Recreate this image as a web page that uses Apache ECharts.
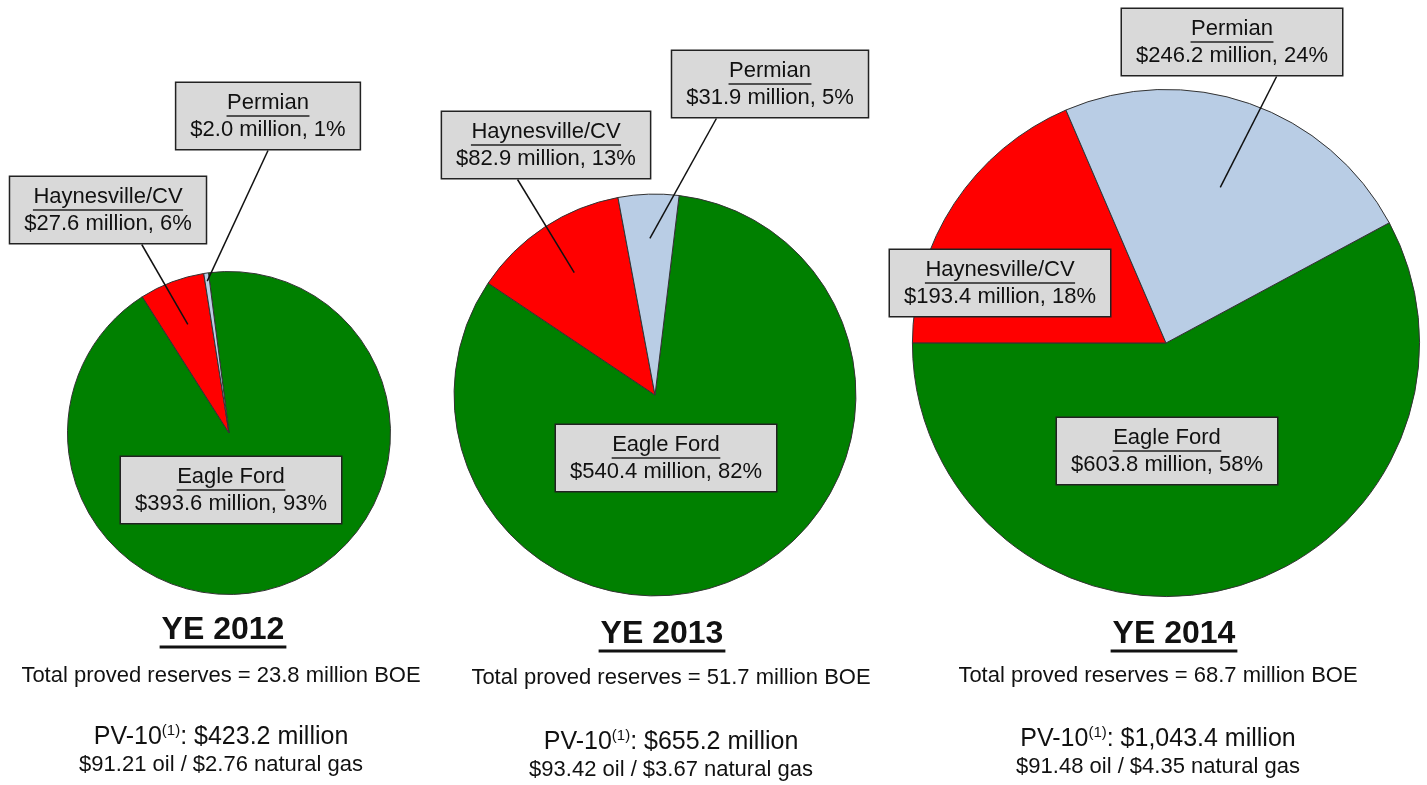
<!DOCTYPE html>
<html>
<head>
<meta charset="utf-8">
<script src="https://cdn.jsdelivr.net/npm/echarts@6/dist/echarts.min.js"></script>
<style>
  html, body { margin: 0; padding: 0; background: #fff; }
  #chart { width: 1427px; height: 785px; }
</style>
</head>
<body>
<div id="chart"></div>
<script>
// ---- data ----
var regions = ['Eagle Ford', 'Haynesville/CV', 'Permian'];
var years = ['YE 2012', 'YE 2013', 'YE 2014'];
var pv2012 = [393.6, 27.6, 2.0];
var pv2013 = [540.4, 82.9, 31.9];
var pv2014 = [603.8, 193.4, 246.2];
var pct2012 = [93, 6, 1];
var pct2013 = [82, 13, 5];
var pct2014 = [58, 18, 24];
var reserves = ['23.8', '51.7', '68.7'];
var prices = ['$91.21 oil / $2.76 natural gas', '$93.42 oil / $3.67 natural gas', '$91.48 oil / $4.35 natural gas'];

// ---- layout ----
var pieCenters = [[229, 433], [655, 395], [1166, 343]];
var startAngles = [97.3, 83.1, 28.3];
var radiusScale = 7.85; // px per sqrt($ million), pies sized by PV-10
var boxCenters = [
  [[231, 490], [108, 210], [268, 116]],
  [[666, 458], [546, 145], [770, 84]],
  [[1167, 451], [1000, 283], [1232, 42]]
];
// how deep into the slice the leader line reaches (0 = no leader)
var anchorDepth = [[0, 0.72, 0.95], [0, 0.73, 0.78], [0, 0, 0.65]];
// where the leader leaves the box bottom, as a share of the half width
var leaderStart = [[0, 0.34, 0], [0, -0.27, -0.54], [0, 0, 0.4]];
var yearX = [223, 662, 1174];
var yearY = [632, 636, 636];
var bodyX = [221, 671, 1158];
var totalY = [676, 678, 676];
var pvY = [737, 742, 739];
var priceY = [765, 770, 767];

var FONT = '"Liberation Sans", Arial, Helvetica, sans-serif';
var sliceColors = ['#008000', '#ff0000', '#b9cde5'];
var pvData = [pv2012, pv2013, pv2014];
var pctData = [pct2012, pct2013, pct2014];

var measureCtx = document.createElement('canvas').getContext('2d');
function textWidth (text, font) {
  measureCtx.font = font;
  return measureCtx.measureText(text).width;
}
function sum (a) {
  return a.reduce(function (s, v) { return s + v; }, 0);
}
function money (v) {
  return '$' + v.toLocaleString('en-US', { minimumFractionDigits: 1, maximumFractionDigits: 1 });
}

var labelRich = {
  n: { fontFamily: FONT, fontSize: 22, lineHeight: 25, color: '#111', align: 'center' },
  v: { fontFamily: FONT, fontSize: 22, lineHeight: 25, color: '#111', align: 'center' }
};
regions.forEach(function (name, j) {
  labelRich['u' + j] = {
    width: textWidth(name, '22px ' + FONT) + 1,
    height: 1.5,
    lineHeight: 2,
    backgroundColor: '#222',
    align: 'center'
  };
});

function makeLayout (i, r, total) {
  var vals = pvData[i];
  return function (params) {
    var j = params.dataIndex;
    var box = boxCenters[i][j];
    var out = { x: box[0], y: box[1], align: 'center', verticalAlign: 'middle' };
    var depth = anchorDepth[i][j];
    if (depth > 0) {
      var before = sum(vals.slice(0, j));
      var mid = (startAngles[i] - 360 * (before + vals[j] / 2) / total) * Math.PI / 180;
      var ax = pieCenters[i][0] + depth * r * Math.cos(mid);
      var ay = pieCenters[i][1] - depth * r * Math.sin(mid);
      var ex = box[0] + leaderStart[i][j] * params.labelRect.width / 2;
      var ey = box[1] + params.labelRect.height / 2;
      out.labelLinePoints = [[ex, ey], [ex, ey], [ax, ay]];
    }
    return out;
  };
}

var series = [];
pvData.forEach(function (vals, i) {
  var total = sum(vals);
  var r = radiusScale * Math.sqrt(total);
  series.push({
    type: 'pie',
    silent: true,
    animation: false,
    z: 2,
    center: pieCenters[i],
    radius: r,
    startAngle: startAngles[i],
    clockwise: true,
    label: { show: false },
    labelLine: { show: false },
    emphasis: { disabled: true },
    itemStyle: { borderColor: '#333', borderWidth: 1 },
    data: vals.map(function (v, j) {
      return { name: regions[j], value: v, itemStyle: { color: sliceColors[j] } };
    })
  });
  // transparent copy on top that only carries the callout boxes and leader lines
  series.push({
    type: 'pie',
    silent: true,
    animation: false,
    z: 5,
    center: pieCenters[i],
    radius: r,
    startAngle: startAngles[i],
    clockwise: true,
    avoidLabelOverlap: false,
    emphasis: { disabled: true },
    itemStyle: { color: 'rgba(0,0,0,0)', borderWidth: 0 },
    label: {
      show: true,
      position: 'outside',
      formatter: function (p) {
        return '{n|' + p.name + '}\n{u' + p.dataIndex + '|}\n{v|' + money(p.value) +
          ' million, ' + pctData[i][p.dataIndex] + '%}';
      },
      fontFamily: FONT,
      fontSize: 22,
      color: '#111',
      backgroundColor: '#d9d9d9',
      borderColor: '#222',
      borderWidth: 1.5,
      padding: [7, 14],
      rich: labelRich
    },
    labelLine: {
      show: true,
      length: 10,
      length2: 0,
      smooth: false,
      lineStyle: { color: '#111', width: 1.5 }
    },
    labelLayout: makeLayout(i, r, total),
    data: vals.map(function (v, j) {
      return { name: regions[j], value: v, labelLine: { show: anchorDepth[i][j] > 0 } };
    })
  });
});

var titles = [];
years.forEach(function (yr, i) {
  var total = sum(pvData[i]);
  titles.push({
    text: '{y|' + yr + '}\n{u|}',
    left: yearX[i],
    top: yearY[i],
    textAlign: 'center',
    textVerticalAlign: 'middle',
    padding: 0,
    textStyle: {
      rich: {
        y: { fontFamily: FONT, fontSize: 32, fontWeight: 'bold', color: '#111', lineHeight: 30, align: 'center' },
        u: { width: textWidth(yr, 'bold 32px ' + FONT) + 4, height: 3, lineHeight: 4, backgroundColor: '#111', align: 'center' }
      }
    }
  });
  titles.push({
    text: 'Total proved reserves = ' + reserves[i] + ' million BOE',
    left: bodyX[i],
    top: totalY[i],
    textAlign: 'center',
    textVerticalAlign: 'middle',
    padding: 0,
    textStyle: { fontFamily: FONT, fontSize: 22, fontWeight: 'normal', color: '#111' }
  });
  titles.push({
    text: '{m|PV-10}{s|(1)}{m|: ' + money(total) + ' million}',
    left: bodyX[i],
    top: pvY[i],
    textAlign: 'center',
    textVerticalAlign: 'middle',
    padding: 0,
    textStyle: {
      rich: {
        m: { fontFamily: FONT, fontSize: 25, fontWeight: 'normal', color: '#111', lineHeight: 28 },
        s: { fontFamily: FONT, fontSize: 15, fontWeight: 'normal', color: '#111', lineHeight: 28, verticalAlign: 'top' }
      }
    }
  });
  titles.push({
    text: prices[i],
    left: bodyX[i],
    top: priceY[i],
    textAlign: 'center',
    textVerticalAlign: 'middle',
    padding: 0,
    textStyle: { fontFamily: FONT, fontSize: 22, fontWeight: 'normal', color: '#111' }
  });
});

var chart = echarts.init(document.getElementById('chart'));
chart.setOption({
  backgroundColor: '#fff',
  animation: false,
  title: titles,
  series: series
});
</script>
</body>
</html>
